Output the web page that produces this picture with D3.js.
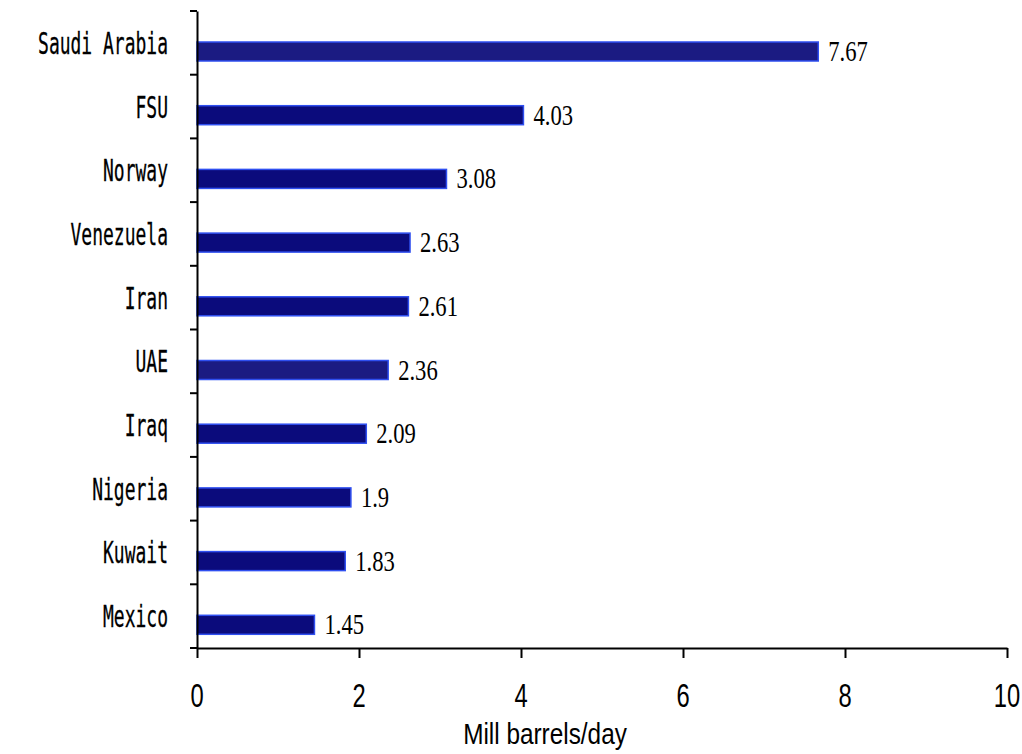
<!DOCTYPE html>
<html>
<head>
<meta charset="utf-8">
<script src="https://cdn.jsdelivr.net/npm/d3@7"></script>
<style>
  body { margin: 0; background: #fff; }
</style>
</head>
<body>
<div id="chart"></div>
<script>
// data
var countries = ["Saudi Arabia", "FSU", "Norway", "Venezuela", "Iran", "UAE", "Iraq", "Nigeria", "Kuwait", "Mexico"];
var production = [7.67, 4.03, 3.08, 2.63, 2.61, 2.36, 2.09, 1.9, 1.83, 1.45];
var xTicks = [0, 2, 4, 6, 8, 10];
var xTitle = "Mill barrels/day";

var W = 1022, H = 754;
var svg = d3.select("#chart").append("svg").attr("width", W).attr("height", H);

var x = d3.scaleLinear().domain([0, 10]).range([197, 1007]);
var y = d3.scaleBand().domain(countries).range([11, 648]).paddingInner(0);

// these two come out a touch lighter in the original
var lighter = ["Saudi Arabia", "UAE"];

// bars
svg.selectAll("rect.bar")
  .data(countries)
  .enter().append("rect")
    .attr("class", "bar")
    .attr("x", x(0))
    .attr("y", function(d) { return y(d) + 31; })
    .attr("width", function(d, i) { return x(production[i]) - x(0); })
    .attr("height", 19)
    .style("fill", function(d) { return lighter.indexOf(d) >= 0 ? "#1b1b82" : "#0b0b7c"; })
    .style("stroke", "#2f4ff0")
    .style("stroke-width", 1.5);

// value labels (condensed serif)
svg.selectAll("text.val")
  .data(countries)
  .enter().append("text")
    .attr("class", "val")
    .attr("transform", function(d, i) {
      return "translate(" + (x(production[i]) + 10) + "," + (y(d) + 50) + ") scale(0.78,1)";
    })
    .style("font-family", "'Liberation Serif', 'Times New Roman', serif")
    .style("font-size", "29px")
    .style("fill", "#000")
    .text(function(d, i) { return production[i]; });

// y axis
var yAxis = d3.axisLeft(y).tickSize(0).tickFormat("");
var gy = svg.append("g").attr("transform", "translate(" + x(0) + ",0)").call(yAxis);
gy.select(".domain").attr("stroke", "#000").attr("stroke-width", 2);

// boundary ticks between categories
var bounds = countries.map(function(d) { return y(d); }).concat([y.range()[1]]);
svg.selectAll("line.ytick")
  .data(bounds)
  .enter().append("line")
    .attr("class", "ytick")
    .attr("x1", x(0) - 7).attr("x2", x(0))
    .attr("y1", function(d) { return d; }).attr("y2", function(d) { return d; })
    .attr("stroke", "#000").attr("stroke-width", 2);

// category labels (narrow mono)
svg.selectAll("text.cat")
  .data(countries)
  .enter().append("text")
    .attr("class", "cat")
    .attr("transform", function(d) {
      return "translate(168," + (y(d) + y.bandwidth() / 2 + 11) + ") scale(0.6,1)";
    })
    .attr("text-anchor", "end")
    .style("font-family", "'DejaVu Sans Mono', monospace")
    .style("font-size", "30px")
    .style("fill", "#000")
    .style("stroke", "#000")
    .style("stroke-width", 0.3)
    .text(function(d) { return d; });

// x axis
var xAxis = d3.axisBottom(x).tickValues(xTicks).tickSize(10).tickSizeOuter(0).tickFormat("");
var gx = svg.append("g").attr("transform", "translate(0,648)").call(xAxis);
gx.select(".domain").attr("stroke", "#000").attr("stroke-width", 2);
gx.selectAll(".tick line").attr("stroke", "#000").attr("stroke-width", 2);

svg.selectAll("text.xt")
  .data(xTicks)
  .enter().append("text")
    .attr("class", "xt")
    .attr("transform", function(d) { return "translate(" + x(d) + ",707) scale(0.72,1)"; })
    .attr("text-anchor", "middle")
    .style("font-family", "'Liberation Sans', Arial, sans-serif")
    .style("font-size", "33px")
    .style("fill", "#000")
    .text(function(d) { return d; });

// axis title
svg.append("text")
  .attr("transform", "translate(545,744) scale(0.84,1)")
  .attr("text-anchor", "middle")
  .style("font-family", "'Liberation Sans', Arial, sans-serif")
  .style("font-size", "29px")
  .style("fill", "#000")
  .text(xTitle);
</script>
</body>
</html>
